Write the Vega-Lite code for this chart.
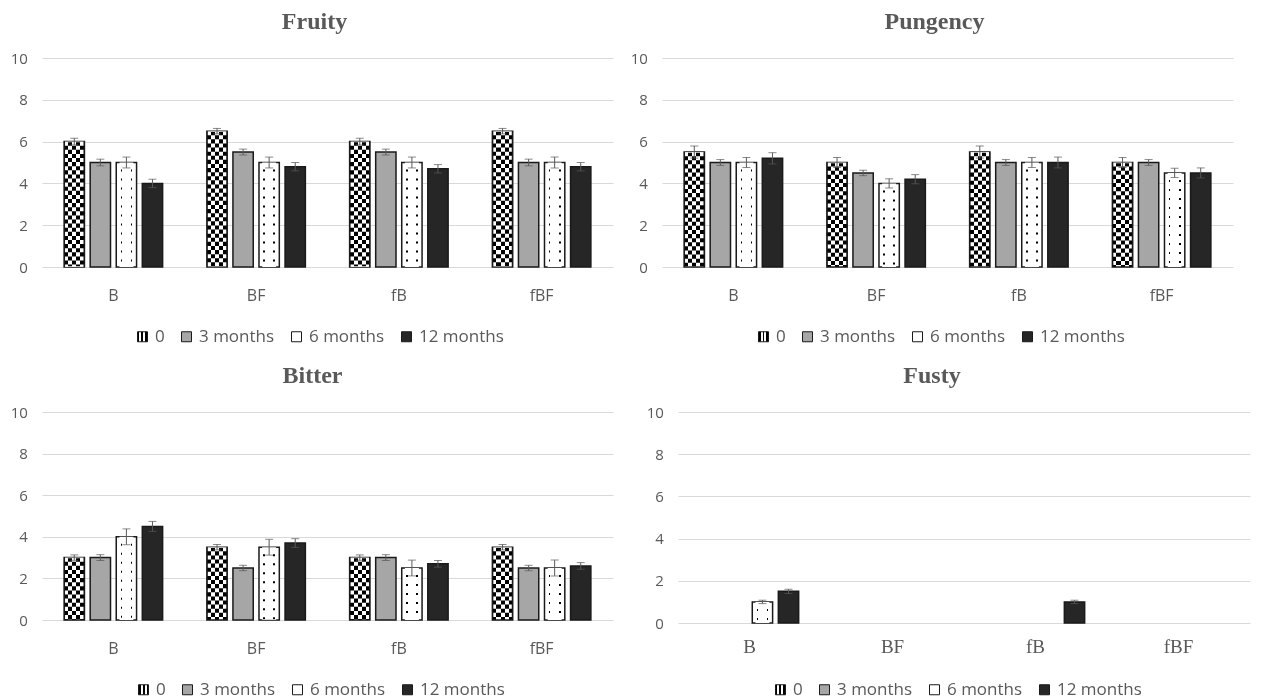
{
  "$schema": "https://vega.github.io/schema/vega-lite/v6.json",
  "autosize": {"type": "pad"},
  "padding": {"left": 10, "top": 10, "right": 5, "bottom": 6},
  "background": "white",
  "data": {"values": [
    {"attr": "Fruity", "cat": "B", "time": "0", "value": 6.0, "err": 0.16},
    {"attr": "Fruity", "cat": "B", "time": "3 months", "value": 5.0, "err": 0.16},
    {"attr": "Fruity", "cat": "B", "time": "6 months", "value": 5.0, "err": 0.26},
    {"attr": "Fruity", "cat": "B", "time": "12 months", "value": 4.0, "err": 0.2},
    {"attr": "Fruity", "cat": "BF", "time": "0", "value": 6.5, "err": 0.13},
    {"attr": "Fruity", "cat": "BF", "time": "3 months", "value": 5.5, "err": 0.14},
    {"attr": "Fruity", "cat": "BF", "time": "6 months", "value": 5.0, "err": 0.26},
    {"attr": "Fruity", "cat": "BF", "time": "12 months", "value": 4.8, "err": 0.2},
    {"attr": "Fruity", "cat": "fB", "time": "0", "value": 6.0, "err": 0.16},
    {"attr": "Fruity", "cat": "fB", "time": "3 months", "value": 5.5, "err": 0.14},
    {"attr": "Fruity", "cat": "fB", "time": "6 months", "value": 5.0, "err": 0.26},
    {"attr": "Fruity", "cat": "fB", "time": "12 months", "value": 4.7, "err": 0.2},
    {"attr": "Fruity", "cat": "fBF", "time": "0", "value": 6.5, "err": 0.13},
    {"attr": "Fruity", "cat": "fBF", "time": "3 months", "value": 5.0, "err": 0.16},
    {"attr": "Fruity", "cat": "fBF", "time": "6 months", "value": 5.0, "err": 0.26},
    {"attr": "Fruity", "cat": "fBF", "time": "12 months", "value": 4.8, "err": 0.2},
    {"attr": "Pungency", "cat": "B", "time": "0", "value": 5.5, "err": 0.29},
    {"attr": "Pungency", "cat": "B", "time": "3 months", "value": 5.0, "err": 0.14},
    {"attr": "Pungency", "cat": "B", "time": "6 months", "value": 5.0, "err": 0.24},
    {"attr": "Pungency", "cat": "B", "time": "12 months", "value": 5.2, "err": 0.27},
    {"attr": "Pungency", "cat": "BF", "time": "0", "value": 5.0, "err": 0.24},
    {"attr": "Pungency", "cat": "BF", "time": "3 months", "value": 4.5, "err": 0.13},
    {"attr": "Pungency", "cat": "BF", "time": "6 months", "value": 4.0, "err": 0.22},
    {"attr": "Pungency", "cat": "BF", "time": "12 months", "value": 4.2, "err": 0.22},
    {"attr": "Pungency", "cat": "fB", "time": "0", "value": 5.5, "err": 0.29},
    {"attr": "Pungency", "cat": "fB", "time": "3 months", "value": 5.0, "err": 0.14},
    {"attr": "Pungency", "cat": "fB", "time": "6 months", "value": 5.0, "err": 0.24},
    {"attr": "Pungency", "cat": "fB", "time": "12 months", "value": 5.0, "err": 0.26},
    {"attr": "Pungency", "cat": "fBF", "time": "0", "value": 5.0, "err": 0.24},
    {"attr": "Pungency", "cat": "fBF", "time": "3 months", "value": 5.0, "err": 0.14},
    {"attr": "Pungency", "cat": "fBF", "time": "6 months", "value": 4.5, "err": 0.22},
    {"attr": "Pungency", "cat": "fBF", "time": "12 months", "value": 4.5, "err": 0.24},
    {"attr": "Bitter", "cat": "B", "time": "0", "value": 3.0, "err": 0.13},
    {"attr": "Bitter", "cat": "B", "time": "3 months", "value": 3.0, "err": 0.14},
    {"attr": "Bitter", "cat": "B", "time": "6 months", "value": 4.0, "err": 0.38},
    {"attr": "Bitter", "cat": "B", "time": "12 months", "value": 4.5, "err": 0.24},
    {"attr": "Bitter", "cat": "BF", "time": "0", "value": 3.5, "err": 0.13},
    {"attr": "Bitter", "cat": "BF", "time": "3 months", "value": 2.5, "err": 0.13},
    {"attr": "Bitter", "cat": "BF", "time": "6 months", "value": 3.5, "err": 0.38},
    {"attr": "Bitter", "cat": "BF", "time": "12 months", "value": 3.7, "err": 0.21},
    {"attr": "Bitter", "cat": "fB", "time": "0", "value": 3.0, "err": 0.13},
    {"attr": "Bitter", "cat": "fB", "time": "3 months", "value": 3.0, "err": 0.14},
    {"attr": "Bitter", "cat": "fB", "time": "6 months", "value": 2.5, "err": 0.38},
    {"attr": "Bitter", "cat": "fB", "time": "12 months", "value": 2.7, "err": 0.16},
    {"attr": "Bitter", "cat": "fBF", "time": "0", "value": 3.5, "err": 0.13},
    {"attr": "Bitter", "cat": "fBF", "time": "3 months", "value": 2.5, "err": 0.13},
    {"attr": "Bitter", "cat": "fBF", "time": "6 months", "value": 2.5, "err": 0.38},
    {"attr": "Bitter", "cat": "fBF", "time": "12 months", "value": 2.6, "err": 0.16},
    {"attr": "Fusty", "cat": "B", "time": "6 months", "value": 1.0, "err": 0.08},
    {"attr": "Fusty", "cat": "B", "time": "12 months", "value": 1.5, "err": 0.1},
    {"attr": "Fusty", "cat": "fB", "time": "12 months", "value": 1.0, "err": 0.08}
  ]},
  "bounds": "flush",
  "spacing": 354,
  "resolve": {"scale": {"fill": "independent"}, "legend": {"fill": "independent"}},
  "vconcat": [
    {
      "bounds": "flush",
      "spacing": 49,
      "resolve": {"scale": {"fill": "independent"}, "legend": {"fill": "independent"}},
      "hconcat": [
        {
          "title": {"text": "Fruity", "dx": -13},
          "width": 571, "height": 209,
          "transform": [{"filter": "datum.attr === 'Fruity'"}],
          "encoding": {
            "x": {"field": "cat", "type": "nominal", "sort": ["B", "BF", "fB", "fBF"], "scale": {"domain": ["B", "BF", "fB", "fBF"], "paddingInner": 0.31, "paddingOuter": 0.155}, "axis": {"labelAngle": 0, "labelFontSize": 16, "labelPadding": 20.5, "grid": false}, "title": null},
            "xOffset": {"field": "time", "type": "nominal", "sort": ["0", "3 months", "6 months", "12 months"], "scale": {"domain": ["0", "3 months", "6 months", "12 months"], "paddingInner": 0.22, "paddingOuter": 0}},
            "y": {"field": "value", "type": "quantitative", "scale": {"domain": [0, 10], "nice": false}, "axis": {"values": [0, 2, 4, 6, 8, 10], "labelFontSize": 15, "labelPadding": 14.7, "grid": true}, "title": null}
          },
          "layer": [
            {"mark": {"type": "bar", "stroke": "#1a1a1a", "strokeWidth": 1.5},
             "encoding": {"fill": {"field": "time", "type": "nominal", "scale": {"domain": ["0", "3 months", "6 months", "12 months"], "range": [
               {"signal": "{gradient: 'linear', x1: 0, y1: 0, x2: 1, y2: 0, stops: [{offset: 0, color: '#000'}, {offset: 0.2, color: '#000'}, {offset: 0.2, color: '#fff'}, {offset: 0.4, color: '#fff'}, {offset: 0.4, color: '#000'}, {offset: 0.6, color: '#000'}, {offset: 0.6, color: '#fff'}, {offset: 0.8, color: '#fff'}, {offset: 0.8, color: '#000'}, {offset: 1, color: '#000'}]}"},
               "#a6a6a6",
               {"signal": "{gradient: 'linear', x1: 0, y1: 0, x2: 1, y2: 0, stops: [{offset: 0, color: '#fff'}, {offset: 0.21, color: '#fff'}, {offset: 0.21, color: '#000'}, {offset: 0.29, color: '#000'}, {offset: 0.29, color: '#fff'}, {offset: 0.71, color: '#fff'}, {offset: 0.71, color: '#000'}, {offset: 0.79, color: '#000'}, {offset: 0.79, color: '#fff'}, {offset: 1, color: '#fff'}]}"},
               "#262626"]}, "legend": {"legendX": 92, "legendY": 270}}}},
            {"transform": [{"filter": "datum.time === '0'"}],
             "mark": {"type": "rule", "stroke": "#ffffff", "strokeWidth": 18.5, "strokeDash": [4.1, 4.1], "strokeCap": "butt", "blend": "difference"},
             "encoding": {"y2": {"datum": 0}}},
            {"transform": [{"filter": "datum.time === '6 months'"}],
             "mark": {"type": "rule", "stroke": "#ffffff", "strokeWidth": 14, "strokeDash": [7, 2], "strokeCap": "butt"},
             "encoding": {"y2": {"datum": 0}}},
            {"mark": {"type": "errorbar", "color": "#595959", "thickness": 1, "ticks": {"size": 8, "thickness": 1, "color": "#595959"}},
             "encoding": {"yError": {"field": "err"}}}
          ]
        },
        {
          "title": {"text": "Pungency", "dx": -13},
          "width": 571, "height": 209,
          "transform": [{"filter": "datum.attr === 'Pungency'"}],
          "encoding": {
            "x": {"field": "cat", "type": "nominal", "sort": ["B", "BF", "fB", "fBF"], "scale": {"domain": ["B", "BF", "fB", "fBF"], "paddingInner": 0.31, "paddingOuter": 0.155}, "axis": {"labelAngle": 0, "labelFontSize": 16, "labelPadding": 20.5, "grid": false}, "title": null},
            "xOffset": {"field": "time", "type": "nominal", "sort": ["0", "3 months", "6 months", "12 months"], "scale": {"domain": ["0", "3 months", "6 months", "12 months"], "paddingInner": 0.22, "paddingOuter": 0}},
            "y": {"field": "value", "type": "quantitative", "scale": {"domain": [0, 10], "nice": false}, "axis": {"values": [0, 2, 4, 6, 8, 10], "labelFontSize": 15, "labelPadding": 14.7, "grid": true}, "title": null}
          },
          "layer": [
            {"mark": {"type": "bar", "stroke": "#1a1a1a", "strokeWidth": 1.5},
             "encoding": {"fill": {"field": "time", "type": "nominal", "scale": {"domain": ["0", "3 months", "6 months", "12 months"], "range": [
               {"signal": "{gradient: 'linear', x1: 0, y1: 0, x2: 1, y2: 0, stops: [{offset: 0, color: '#000'}, {offset: 0.2, color: '#000'}, {offset: 0.2, color: '#fff'}, {offset: 0.4, color: '#fff'}, {offset: 0.4, color: '#000'}, {offset: 0.6, color: '#000'}, {offset: 0.6, color: '#fff'}, {offset: 0.8, color: '#fff'}, {offset: 0.8, color: '#000'}, {offset: 1, color: '#000'}]}"},
               "#a6a6a6",
               {"signal": "{gradient: 'linear', x1: 0, y1: 0, x2: 1, y2: 0, stops: [{offset: 0, color: '#fff'}, {offset: 0.21, color: '#fff'}, {offset: 0.21, color: '#000'}, {offset: 0.29, color: '#000'}, {offset: 0.29, color: '#fff'}, {offset: 0.71, color: '#fff'}, {offset: 0.71, color: '#000'}, {offset: 0.79, color: '#000'}, {offset: 0.79, color: '#fff'}, {offset: 1, color: '#fff'}]}"},
               "#262626"]}, "legend": {"legendX": 93, "legendY": 270}}}},
            {"transform": [{"filter": "datum.time === '0'"}],
             "mark": {"type": "rule", "stroke": "#ffffff", "strokeWidth": 18.5, "strokeDash": [4.1, 4.1], "strokeCap": "butt", "blend": "difference"},
             "encoding": {"y2": {"datum": 0}}},
            {"transform": [{"filter": "datum.time === '6 months'"}],
             "mark": {"type": "rule", "stroke": "#ffffff", "strokeWidth": 14, "strokeDash": [7, 2], "strokeCap": "butt"},
             "encoding": {"y2": {"datum": 0}}},
            {"mark": {"type": "errorbar", "color": "#595959", "thickness": 1, "ticks": {"size": 8, "thickness": 1, "color": "#595959"}},
             "encoding": {"yError": {"field": "err"}}}
          ]
        }
      ]
    },
    {
      "bounds": "flush",
      "spacing": 65,
      "resolve": {"scale": {"fill": "independent"}, "legend": {"fill": "independent"}},
      "hconcat": [
        {
          "title": {"text": "Bitter", "dx": -15},
          "width": 571, "height": 208,
          "transform": [{"filter": "datum.attr === 'Bitter'"}],
          "encoding": {
            "x": {"field": "cat", "type": "nominal", "sort": ["B", "BF", "fB", "fBF"], "scale": {"domain": ["B", "BF", "fB", "fBF"], "paddingInner": 0.31, "paddingOuter": 0.155}, "axis": {"labelAngle": 0, "labelFontSize": 16, "labelPadding": 20, "grid": false}, "title": null},
            "xOffset": {"field": "time", "type": "nominal", "sort": ["0", "3 months", "6 months", "12 months"], "scale": {"domain": ["0", "3 months", "6 months", "12 months"], "paddingInner": 0.22, "paddingOuter": 0}},
            "y": {"field": "value", "type": "quantitative", "scale": {"domain": [0, 10], "nice": false}, "axis": {"values": [0, 2, 4, 6, 8, 10], "labelFontSize": 15, "labelPadding": 14.7, "grid": true}, "title": null}
          },
          "layer": [
            {"mark": {"type": "bar", "stroke": "#1a1a1a", "strokeWidth": 1.5},
             "encoding": {"fill": {"field": "time", "type": "nominal", "scale": {"domain": ["0", "3 months", "6 months", "12 months"], "range": [
               {"signal": "{gradient: 'linear', x1: 0, y1: 0, x2: 1, y2: 0, stops: [{offset: 0, color: '#000'}, {offset: 0.2, color: '#000'}, {offset: 0.2, color: '#fff'}, {offset: 0.4, color: '#fff'}, {offset: 0.4, color: '#000'}, {offset: 0.6, color: '#000'}, {offset: 0.6, color: '#fff'}, {offset: 0.8, color: '#fff'}, {offset: 0.8, color: '#000'}, {offset: 1, color: '#000'}]}"},
               "#a6a6a6",
               {"signal": "{gradient: 'linear', x1: 0, y1: 0, x2: 1, y2: 0, stops: [{offset: 0, color: '#fff'}, {offset: 0.21, color: '#fff'}, {offset: 0.21, color: '#000'}, {offset: 0.29, color: '#000'}, {offset: 0.29, color: '#fff'}, {offset: 0.71, color: '#fff'}, {offset: 0.71, color: '#000'}, {offset: 0.79, color: '#000'}, {offset: 0.79, color: '#fff'}, {offset: 1, color: '#fff'}]}"},
               "#262626"]}, "legend": {"legendX": 93, "legendY": 269}}}},
            {"transform": [{"filter": "datum.time === '0'"}],
             "mark": {"type": "rule", "stroke": "#ffffff", "strokeWidth": 18.5, "strokeDash": [4.1, 4.1], "strokeCap": "butt", "blend": "difference"},
             "encoding": {"y2": {"datum": 0}}},
            {"transform": [{"filter": "datum.time === '6 months'"}],
             "mark": {"type": "rule", "stroke": "#ffffff", "strokeWidth": 14, "strokeDash": [7, 2], "strokeCap": "butt"},
             "encoding": {"y2": {"datum": 0}}},
            {"mark": {"type": "errorbar", "color": "#595959", "thickness": 1, "ticks": {"size": 8, "thickness": 1, "color": "#595959"}},
             "encoding": {"yError": {"field": "err"}}}
          ]
        },
        {
          "title": {"text": "Fusty", "dx": -32},
          "width": 572, "height": 211,
          "transform": [{"filter": "datum.attr === 'Fusty'"}],
          "encoding": {
            "x": {"field": "cat", "type": "nominal", "sort": ["B", "BF", "fB", "fBF"], "scale": {"domain": ["B", "BF", "fB", "fBF"], "paddingInner": 0.31, "paddingOuter": 0.155}, "axis": {"labelAngle": 0, "labelFont": "Liberation Serif", "labelFontSize": 19, "labelPadding": 14, "grid": false}, "title": null},
            "xOffset": {"field": "time", "type": "nominal", "sort": ["0", "3 months", "6 months", "12 months"], "scale": {"domain": ["0", "3 months", "6 months", "12 months"], "paddingInner": 0.22, "paddingOuter": 0}},
            "y": {"field": "value", "type": "quantitative", "scale": {"domain": [0, 10], "nice": false}, "axis": {"values": [0, 2, 4, 6, 8, 10], "labelFontSize": 15, "labelPadding": 14.7, "grid": true}, "title": null}
          },
          "layer": [
            {"mark": {"type": "bar", "stroke": "#1a1a1a", "strokeWidth": 1.5},
             "encoding": {"fill": {"field": "time", "type": "nominal", "scale": {"domain": ["0", "3 months", "6 months", "12 months"], "range": [
               {"signal": "{gradient: 'linear', x1: 0, y1: 0, x2: 1, y2: 0, stops: [{offset: 0, color: '#000'}, {offset: 0.2, color: '#000'}, {offset: 0.2, color: '#fff'}, {offset: 0.4, color: '#fff'}, {offset: 0.4, color: '#000'}, {offset: 0.6, color: '#000'}, {offset: 0.6, color: '#fff'}, {offset: 0.8, color: '#fff'}, {offset: 0.8, color: '#000'}, {offset: 1, color: '#000'}]}"},
               "#a6a6a6",
               {"signal": "{gradient: 'linear', x1: 0, y1: 0, x2: 1, y2: 0, stops: [{offset: 0, color: '#fff'}, {offset: 0.21, color: '#fff'}, {offset: 0.21, color: '#000'}, {offset: 0.29, color: '#000'}, {offset: 0.29, color: '#fff'}, {offset: 0.71, color: '#fff'}, {offset: 0.71, color: '#000'}, {offset: 0.79, color: '#000'}, {offset: 0.79, color: '#fff'}, {offset: 1, color: '#fff'}]}"},
               "#262626"]}, "legend": {"legendX": 94, "legendY": 269}}}},
            {"transform": [{"filter": "datum.time === '0'"}],
             "mark": {"type": "rule", "stroke": "#ffffff", "strokeWidth": 18.5, "strokeDash": [4.1, 4.1], "strokeCap": "butt", "blend": "difference"},
             "encoding": {"y2": {"datum": 0}}},
            {"transform": [{"filter": "datum.time === '6 months'"}],
             "mark": {"type": "rule", "stroke": "#ffffff", "strokeWidth": 14, "strokeDash": [7, 2], "strokeCap": "butt"},
             "encoding": {"y2": {"datum": 0}}},
            {"mark": {"type": "errorbar", "color": "#595959", "thickness": 1, "ticks": {"size": 8, "thickness": 1, "color": "#595959"}},
             "encoding": {"yError": {"field": "err"}}}
          ]
        }
      ]
    }
  ],
  "config": {
    "view": {"stroke": null},
    "axis": {"labelFont": "Open Sans", "labelColor": "#595959", "domain": false, "ticks": false, "tickSize": 0, "gridColor": "#d9d9d9", "gridWidth": 1},
    "title": {"font": "Liberation Serif", "fontSize": 24, "fontWeight": "bold", "color": "#595959", "anchor": "middle", "frame": "group", "baseline": "alphabetic", "offset": 17},
    "legend": {"orient": "none", "direction": "horizontal", "title": null, "symbolType": "square", "symbolSize": 100, "symbolStrokeColor": "#1a1a1a", "symbolStrokeWidth": 1, "labelFont": "Open Sans", "labelFontSize": 17, "labelColor": "#595959", "labelOffset": 4, "columnPadding": 13, "padding": 0}
  }
}
